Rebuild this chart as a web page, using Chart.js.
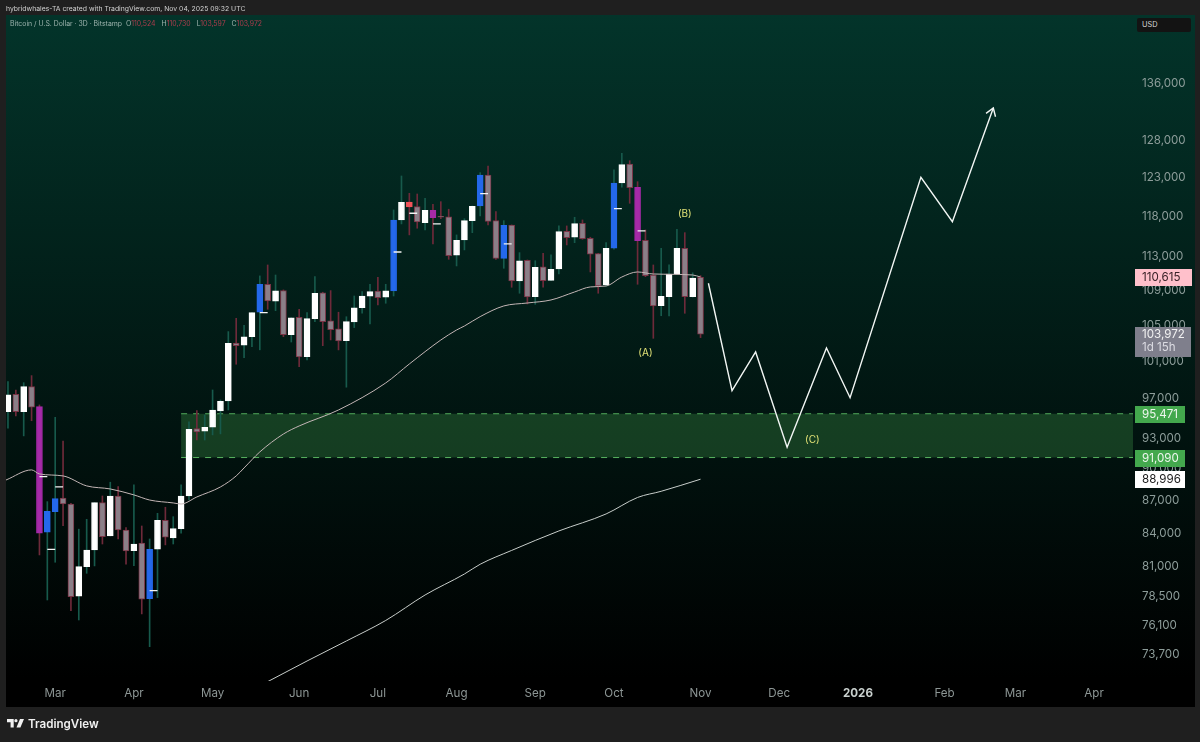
<!DOCTYPE html>
<html>
<head>
<meta charset="utf-8">
<title>BTC/USD 3D</title>
<script src="https://cdn.jsdelivr.net/npm/chart.js@4/dist/chart.umd.min.js"></script>
<style>
  html, body { margin: 0; padding: 0; width: 1200px; height: 742px; overflow: hidden; background: #1f1f1f; font-family: Inter, "Noto Sans", sans-serif; }
  #panel { position: absolute; left: 6px; top: 15px; width: 1189px; height: 692px; background: linear-gradient(180deg, #03342a 0%, #000 96%); }
  #chart { position: absolute; left: 0; top: 0; }
  .txt { position: absolute; white-space: nowrap; }
  #credit { left: 6px; top: 4px; font-size: 6.85px; color: #d2d2d2; }
  #legend { left: 10px; top: 19px; font-size: 6.9px; color: #9db3ad; }
  #legend b { font-weight: 400; color: #ad3c4c; margin-right: 4px; }
  #usd { left: 1137px; top: 18px; width: 49px; height: 14px; line-height: 14px; padding-left: 5px; background: #131313; border-radius: 2px; font-size: 7.4px; color: #d6d6d6; }
  #brand { left: 28px; top: 717px; font-size: 11.6px; font-weight: 600; color: #f0f0f0; }
  #logo { position: absolute; left: 7px; top: 719px; }
</style>
</head>
<body>
<div id="panel"></div>
<canvas id="chart" width="1200" height="742"></canvas>
<div class="txt" id="credit">hybridwhales-TA created with TradingView.com, Nov 04, 2025 09:32 UTC</div>
<div class="txt" id="legend">Bitcoin / U.S. Dollar · 3D · Bitstamp &nbsp;O<b>110,524</b> H<b>110,730</b> L<b>103,597</b> C<b>103,972</b></div>
<div class="txt" id="usd">USD</div>
<svg id="logo" width="17" height="9" viewBox="0 0 19 10"><path d="M0 0h7.5v9.5H4V3.5H0z" fill="#f0f0f0"/><circle cx="10" cy="1.8" r="1.8" fill="#f0f0f0"/><path d="M14.5 0H19l-4 9.5h-4.4z" fill="#f0f0f0"/></svg>
<div class="txt" id="brand">TradingView</div>
<script>
// 3D candles
const opens = [
  95690,97490,95690,98290,96200,84070,85950,87220,86660,78490,
  81030,82490,86790,83740,87410,84280,82430,83110,78290,82550,
  85160,83560,84400,87410,93960,93700,94100,95760,96790,103000,
  102750,103700,106460,109700,107720,108960,103930,105880,101500,105730,
  108690,105470,104570,103260,105350,106990,108300,108890,108180,108920,
  117535,119830,119230,117200,118770,118000,117920,113170,115040,117450,
  119320,123350,117450,112800,116910,110090,112560,108250,111760,110170,
  111520,116120,115380,117120,115250,113360,109620,114020,122300,124790,
  121740,115000,110800,107210,108250,110960,114020,108250,110524];
const closes = [
  97420,95690,98290,96140,83980,85990,87160,86660,78460,81030,
  82490,86790,83680,87410,84280,82400,83020,78240,82550,85160,
  83620,84400,87410,93900,93630,94100,95860,96760,102970,102710,
  103700,106410,109700,107750,108920,103930,105830,101470,105730,108650,
  105390,104490,103230,105390,106950,108330,108840,108140,108920,117535,
  119790,119190,117290,118770,117830,117900,113120,115000,117450,119280,
  123350,117370,112800,116870,110090,112510,108220,111720,110120,111480,
  116080,115330,117070,115200,113290,109510,114020,122300,124730,121690,
  114950,110720,107180,108300,110920,114020,108250,110440,103972];
const highs = [
  98820,97940,98710,99460,96380,86880,95110,92720,86730,84350,
  85250,86790,87410,88710,88290,84490,88450,84640,83470,85800,
  86360,85490,88450,94660,95790,95350,97940,96890,104270,105770,
  104980,106410,110690,112000,110800,109040,105830,106800,106410,110600,
  108770,108960,106460,105950,108330,108840,109700,110530,109700,118810,
  123220,120950,120860,120300,119540,119870,118900,115670,117700,119320,
  123660,124550,118600,117450,116910,113490,112600,112510,113410,113210,
  116790,116790,117880,117540,115380,113410,114710,124020,126260,125260,
  122470,116290,112000,114020,112000,116370,115950,111060,110730];
const lows = [
  94000,95250,93230,94760,82050,78180,81410,84670,77290,76520,
  80450,81090,83020,83740,83470,81240,81110,77020,74360,78380,
  82940,83020,83980,87030,92820,92820,93330,93430,95860,100680,
  101390,102600,102250,106800,106640,103700,103110,100420,101140,105390,
  102710,103340,102240,98230,104720,106340,105130,107300,107490,108330,
  117040,115670,116500,116290,114550,117700,112680,111880,113820,115950,
  118050,116910,112680,111600,109350,108650,107410,107370,109350,110120,
  110920,114430,114710,115130,111160,108650,109510,113900,121740,119660,
  109700,110600,103520,106060,106040,110920,106340,108200,103597];
// u white, d grey, b blue, p purple, r red
const barKinds = [
  'u','d','u','d','p','b','b','d','d','u',
  'u','u','d','u','d','d','u','d','b','u',
  'd','u','u','u','d','u','u','u','u','d',
  'u','u','b','d','u','d','u','d','u','u',
  'd','d','d','u','u','u','u','d','u','b',
  'u','r','d','u','p','d','d','u','u','u',
  'b','d','d','b','d','u','d','u','d','u',
  'u','d','u','d','d','d','u','b','u','d',
  'p','d','d','u','u','u','d','u','d'];

// little white dashes next to the coloured bars
const dashBars = [4,5,6,18,32,49,51,54,60,63,77,80];
const dashPrices = [89240,82550,88260,78970,106410,113570,118390,117035,120900,114550,118970,116160];

// moving averages
const fastBars = [-0.25,3,4,7,10,13,16,18,21,22,24,27,29,30,32,35,37,42,48,51,55,57,58,60,63,66,69,72,74,76,78,80,82,87,88];
const fastValues = [88920,89890,89500,89310,88360,88070,87510,87030,86760,86660,87320,88260,89310,90080,91640,93420,94230,95860,98680,100710,103335,104450,104900,105960,107180,107520,107870,108800,109390,109500,110560,111160,110920,110800,110560];
const slowBars = [33,38,43,48,53,58,60,64,70,76,80,83,88];
const slowValues = [71620,73225,74815,76480,78600,80390,81236,82450,84190,85740,87270,87850,88996];

// projected path
const pathBars = [89,92,95,99,104,107,116,120,125.2];
const pathPrices = [109820,97870,102020,92100,102450,97130,123050,117320,132540];

// demand zone
const zoneStart = 22;
const zoneTop = 95471;
const zoneBottom = 91090;

// wave labels
const waveNames = ['(A)','(B)','(C)'];
const waveBars = [81,86,102.2];
const wavePrices = [101900,118300,92820];

// axes
const priceTicks = [136000,128000,123000,118000,113000,109000,105000,101000,97000,93000,90000,87000,84000,81000,78500,76100,73700];
const monthBars = [6,16,26,37,47,57,67,77,88,98,108,119,128,138];
const monthLabels = ['Mar','Apr','May','Jun','Jul','Aug','Sep','Oct','Nov','Dec','2026','Feb','Mar','Apr'];
const firstBar = -0.25;
const lastBar = 142.95;
const priceMin = 71670;
const priceMax = 146295;

// price tags on the right
const tagPrices = [110615,95471,91090,88996];
const tagFills = ['#ffc0cb','#43a84d','#43a84d','#ffffff'];
const tagInks = ['#3a2228','#eef7ee','#eef7ee','#1a1a1a'];
const tagWidths = [57,50,50,50];
const lastPrice = 103972;
const countdown = '1d 15h';

const bodyFill = { u: '#ffffff', d: '#8b7f88', b: '#2468ea', p: '#a52aa8', r: '#f2545b' };
const bodyEdge = { u: '#ffffff', d: '#7a3446', b: '#2468ea', p: '#a52aa8', r: '#f2545b' };
const wickTint = { u: '#175a4c', b: '#175a4c', d: '#6e2a3a', p: '#6e2a3a', r: '#6e2a3a' };

function fmt(v) {
  return Math.round(v).toLocaleString('en-US');
}

function pairs(xs, ys) {
  return xs.map((x, i) => ({ x: x, y: ys[i] }));
}

// one line dataset with gaps between the dashes
const dashPoints = [];
dashBars.forEach((b, i) => {
  dashPoints.push({ x: b, y: dashPrices[i] }, { x: b + 1, y: dashPrices[i] }, { x: b + 1, y: null });
});

const overlay = {
  id: 'overlay',
  afterDraw(chart) {
    const ctx = chart.ctx;
    const xs = chart.scales.x;
    const ys = chart.scales.y;

    // arrow head on the projected path
    const n = pathBars.length - 1;
    const tx = xs.getPixelForValue(pathBars[n]);
    const ty = ys.getPixelForValue(pathPrices[n]);
    const ang = Math.atan2(ty - ys.getPixelForValue(pathPrices[n - 1]), tx - xs.getPixelForValue(pathBars[n - 1]));
    ctx.save();
    ctx.strokeStyle = '#f2f6f4';
    ctx.lineWidth = 1.4;
    ctx.beginPath();
    ctx.moveTo(tx + 9 * Math.cos(ang + 2.55), ty + 9 * Math.sin(ang + 2.55));
    ctx.lineTo(tx, ty);
    ctx.lineTo(tx + 9 * Math.cos(ang - 2.55), ty + 9 * Math.sin(ang - 2.55));
    ctx.stroke();

    // wave labels
    ctx.font = '10px Inter, sans-serif';
    ctx.fillStyle = '#e3e377';
    ctx.textAlign = 'center';
    ctx.textBaseline = 'middle';
    waveNames.forEach((t, i) => {
      ctx.fillText(t, xs.getPixelForValue(waveBars[i]), ys.getPixelForValue(wavePrices[i]));
    });

    // price tags
    ctx.font = '11.6px Inter, sans-serif';
    ctx.textAlign = 'left';
    const tagX = 1135;
    tagPrices.forEach((p, i) => {
      const y = Math.round(ys.getPixelForValue(p));
      ctx.fillStyle = tagFills[i];
      ctx.fillRect(tagX, y - 8, tagWidths[i], 17);
      ctx.fillStyle = tagInks[i];
      ctx.fillText(fmt(p), tagX + 7, y + 1);
    });
    const ly = Math.round(ys.getPixelForValue(lastPrice));
    ctx.fillStyle = '#7f7f8c';
    ctx.fillRect(tagX, ly - 7, 56, 30);
    ctx.fillStyle = '#f1f1f1';
    ctx.fillText(fmt(lastPrice), tagX + 7, ly + 1);
    ctx.fillStyle = '#dcdce2';
    ctx.fillText(countdown, tagX + 7, ly + 14);
    ctx.restore();
  }
};

new Chart(document.getElementById('chart'), {
  type: 'bar',
  data: {
    datasets: [
      {
        type: 'line', order: 9, data: pairs([zoneStart, lastBar], [zoneTop, zoneTop]),
        borderColor: '#58b460', borderWidth: 1, borderDash: [6, 6], pointRadius: 0
      },
      {
        type: 'line', order: 8, data: pairs([zoneStart, lastBar], [zoneBottom, zoneBottom]),
        borderColor: '#58b460', borderWidth: 1, borderDash: [6, 6], pointRadius: 0,
        fill: '-1', backgroundColor: 'rgba(52,128,62,0.4)'
      },
      {
        type: 'bar', order: 5, grouped: false, barThickness: 1,
        data: highs.map((h, i) => ({ x: i, y: [lows[i], h] })),
        backgroundColor: barKinds.map(k => wickTint[k])
      },
      {
        type: 'bar', order: 4, grouped: false, barThickness: 6,
        data: opens.map((o, i) => ({ x: i, y: [o, closes[i]] })),
        backgroundColor: barKinds.map(k => bodyFill[k]),
        borderColor: barKinds.map(k => bodyEdge[k]),
        borderWidth: 1, borderSkipped: false
      },
      {
        type: 'line', order: 3, data: dashPoints, spanGaps: false,
        borderColor: '#f4f4f4', borderWidth: 1.3, pointRadius: 0
      },
      {
        type: 'line', order: 2, data: pairs(fastBars, fastValues), cubicInterpolationMode: 'monotone',
        borderColor: '#c4b6b6', borderWidth: 1, pointRadius: 0
      },
      {
        type: 'line', order: 2, data: pairs(slowBars, slowValues), cubicInterpolationMode: 'monotone',
        borderColor: '#c8cecb', borderWidth: 1, pointRadius: 0
      },
      {
        type: 'line', order: 1, data: pairs(pathBars, pathPrices),
        borderColor: '#f2f6f4', borderWidth: 1.4, pointRadius: 0
      }
    ]
  },
  options: {
    responsive: false,
    animation: false,
    events: [],
    layout: { padding: { left: 6, top: 16, right: 5, bottom: 34 } },
    plugins: { legend: { display: false }, tooltip: { enabled: false } },
    scales: {
      x: {
        type: 'linear',
        offset: false,
        min: firstBar,
        max: lastBar,
        grid: { display: false, drawTicks: false },
        border: { display: false },
        afterBuildTicks: s => { s.ticks = monthBars.map(v => ({ value: v })); },
        afterFit: s => { s.height = 27; },
        ticks: {
          autoSkip: false,
          maxRotation: 0,
          padding: 6,
          color: c => (c.tick && c.tick.label === '2026') ? '#c9d0ce' : '#8d9695',
          font: c => ({ family: 'Inter', size: 11.6, weight: (c.tick && c.tick.label === '2026') ? '700' : '400' }),
          callback: v => monthLabels[monthBars.indexOf(v)]
        }
      },
      y: {
        type: 'logarithmic',
        position: 'right',
        min: priceMin,
        max: priceMax,
        grid: { display: false, drawTicks: false },
        border: { display: false },
        afterBuildTicks: s => { s.ticks = priceTicks.map(v => ({ value: v })); },
        afterFit: s => { s.width = 62; },
        ticks: {
          autoSkip: false,
          padding: 9,
          color: '#8d9d9a',
          font: { family: 'Inter', size: 11.6 },
          callback: v => fmt(v)
        }
      }
    }
  },
  plugins: [overlay]
});
</script>
</body>
</html>
